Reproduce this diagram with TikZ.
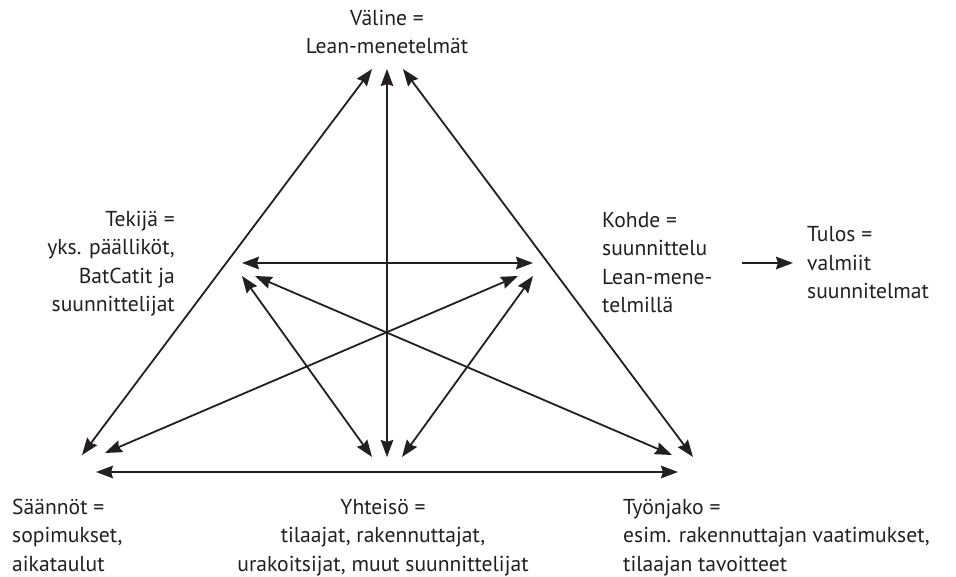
\documentclass[tikz,border=0pt]{standalone}
\usepackage{fontspec}
\setmainfont{PT Sans}
\usetikzlibrary{arrows.meta}
\definecolor{ink}{RGB}{35,31,32}
\begin{document}
\begin{tikzpicture}[x=1pt,y=-1pt,
  lbl/.style={inner sep=0pt, text=ink, font=\fontsize{21.6}{28.5}\selectfont},
  conn/.style={draw=ink, line width=1.8pt, {Stealth[length=17pt,width=12.5pt,inset=2pt]}-{Stealth[length=17pt,width=12.5pt,inset=2pt]}},
  oneway/.style={draw=ink, line width=1.8pt, -{Stealth[length=17pt,width=12.5pt,inset=2pt]}}]
\useasboundingbox (0,0) rectangle (956,577);
% labels (anchored at the baseline of their last line)
\node[lbl, align=center, anchor=base] (valine) at (387,54) {Väline =\\Lean-menetelmät};
\node[lbl, align=right, anchor=base east] (tekija) at (175,312) {Tekijä =\\yks. päälliköt,\\BatCatit ja\\suunnittelijat};
\node[lbl, align=left, anchor=base west] (kohde) at (602,313) {Kohde =\\suunnittelu\\Lean-mene-\\telmillä};
\node[lbl, align=left, anchor=base west] (tulos) at (807,299) {Tulos =\\valmiit\\suunnitelmat};
\node[lbl, align=left, anchor=base west] (saannot) at (12,571) {Säännöt =\\sopimukset,\\aikataulut};
\node[lbl, align=center, anchor=base] (yhteiso) at (383,571) {Yhteisö =\\tilaajat, rakennuttajat,\\urakoitsijat, muut suunnittelijat};
\node[lbl, align=left, anchor=base west] (tyonjako) at (623,571) {Työnjako =\\esim. rakennuttajan vaatimukset,\\tilaajan tavoitteet};
% arrow end points
\coordinate (tL) at (372,69);
\coordinate (tM) at (387,69);
\coordinate (tR) at (403,69);
\coordinate (rT) at (82,455);
\coordinate (rD) at (105,453);
\coordinate (rH) at (96,472);
\coordinate (cL) at (372,457);
\coordinate (cM) at (387,457);
\coordinate (cR) at (402,457);
\coordinate (dD) at (672,455);
\coordinate (dT) at (693,457);
\coordinate (dH) at (678,472);
\coordinate (sH) at (242,263);
\coordinate (sC) at (242,276);
\coordinate (sD) at (255,276);
\coordinate (oH) at (533,263);
\coordinate (oR) at (518,276);
\coordinate (oC) at (533,276);
\coordinate (oOut) at (742,263);
\coordinate (resIn) at (793,263);
% connectors
\draw[conn] (tL) -- (rT);
\draw[conn] (tM) -- (cM);
\draw[conn] (tR) -- (dT);
\draw[conn] (rH) -- (dH);
\draw[conn] (sH) -- (oH);
\draw[conn] (sC) -- (cL);
\draw[conn] (sD) -- (dD);
\draw[conn] (oR) -- (rD);
\draw[conn] (oC) -- (cR);
\draw[oneway] (oOut) -- (resIn);
\end{tikzpicture}
\end{document}
